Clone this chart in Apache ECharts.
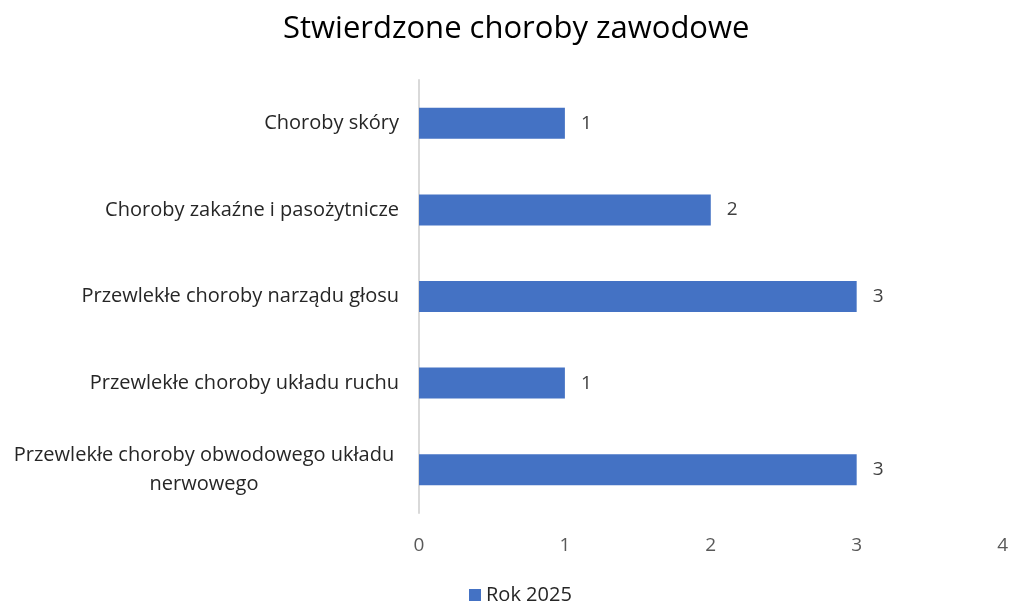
<!DOCTYPE html>
<html>
<head>
<meta charset="utf-8">
<script src="https://cdn.jsdelivr.net/npm/echarts@6/dist/echarts.min.js"></script>
<style>
  html, body { margin: 0; padding: 0; background: #fff; }
  #main { width: 1011px; height: 602px; }
</style>
</head>
<body>
<div id="main"></div>
<script>
// data, top to bottom as in the picture
var categories = [
  'Choroby skóry',
  'Choroby zakaźne i pasożytnicze',
  'Przewlekłe choroby narządu głosu',
  'Przewlekłe choroby układu ruchu',
  'Przewlekłe choroby obwodowego układu nerwowego'
];
var values2025 = [1, 2, 3, 1, 3];
var xTicks = [0, 1, 2, 3, 4];
var seriesName = 'Rok 2025';

var FONT = '"Open Sans", sans-serif';
var chart = echarts.init(document.getElementById('main'), null, { renderer: 'canvas' });

var option = {
  animation: false,
  title: {
    text: 'Stwierdzone choroby zawodowe',
    left: 278,
    top: 9,
    textStyle: { fontFamily: FONT, fontSize: 31, fontWeight: 'normal', color: '#000' }
  },
  legend: {
    top: 580,
    left: 464,
    itemWidth: 12,
    itemHeight: 12,
    itemGap: 6,
    icon: 'rect',
    textStyle: { fontFamily: FONT, fontSize: 20, color: '#262626' },
    data: [seriesName]
  },
  grid: { left: 419, right: 8, top: 80, bottom: 89, containLabel: false },
  xAxis: {
    type: 'value',
    min: xTicks[0],
    max: xTicks[xTicks.length - 1],
    interval: 1,
    axisLine: { show: false },
    axisTick: { show: false },
    splitLine: { show: false },
    axisLabel: { fontFamily: FONT, fontSize: 19, color: '#595959', margin: 23 }
  },
  yAxis: {
    type: 'category',
    inverse: true,
    data: categories,
    axisLine: { show: true, lineStyle: { color: '#d9d9d9', width: 2 } },
    axisTick: { show: false },
    axisLabel: {
      fontFamily: FONT, fontSize: 20, color: '#262626', margin: 20,
      formatter: function (v) {
        if (v.length > 40) {
          var i = v.lastIndexOf(' ');
          return '{c|' + v.slice(0, i) + '}\n{c|' + v.slice(i + 1) + '}';
        }
        return v;
      },
      rich: {
        c: { fontFamily: FONT, fontSize: 20, color: '#262626', width: 390, align: 'center', lineHeight: 29 }
      }
    }
  },
  series: [{
    name: seriesName,
    type: 'bar',
    data: values2025,
    barWidth: 31,
    itemStyle: { color: '#4472c4' },
    label: {
      show: true,
      position: 'right',
      distance: 16,
      fontFamily: FONT,
      fontSize: 19,
      color: '#404040'
    }
  }]
};
chart.setOption(option);
</script>
</body>
</html>
